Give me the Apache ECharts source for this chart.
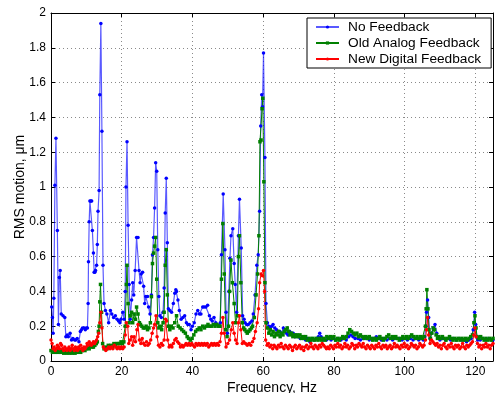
<!DOCTYPE html>
<html>
<head>
<meta charset="utf-8">
<script src="https://cdn.jsdelivr.net/npm/echarts@6/dist/echarts.min.js"></script>
<style>
  html, body { margin: 0; padding: 0; background: #fff; }
  #chart { width: 496px; height: 393px; }
</style>
</head>
<body>
<div id="chart"></div>
<script>
// [frequency Hz, RMS motion um]
var noFeedback = [
  [0.2,0.31],[0.4,0.25],[0.6,0.16],[0.8,0.36],[1.1,1.01],[1.4,1.28],[1.8,0.75],[2.1,0.21],[2.35,0.48],[2.6,0.52],
  [2.9,0.27],[3.4,0.26],[3.9,0.25],[4.2,0.14],[4.6,0.15],[4.9,0.14],[5.4,0.16],[5.8,0.12],[6.2,0.13],[6.7,0.12],
  [7.0,0.12],[7.4,0.13],[7.9,0.11],[8.3,0.17],[8.6,0.18],[8.9,0.19],[9.4,0.19],[9.7,0.18],[10.0,0.19],[10.3,0.19],
  [10.5,0.33],[10.6,0.57],[10.8,0.80],[11.0,0.92],[11.3,0.92],[11.5,0.92],[11.7,0.75],[12.0,0.62],[12.2,0.51],[12.4,0.51],
  [12.6,0.52],[12.9,0.55],[13.1,0.67],[13.3,0.86],[13.6,0.98],[13.8,1.53],[14.1,1.94],[14.4,1.32],[14.7,0.55],[15.0,0.33],
  [15.4,0.29],[15.8,0.27],[16.3,0.22],[16.8,0.29],[17.2,0.27],[17.7,0.25],[18.2,0.26],[18.7,0.24],[19.1,0.23],[19.5,0.22],
  [19.8,0.24],[20.3,0.28],[20.7,0.24],[21.0,0.40],[21.2,1.00],[21.5,1.26],[21.8,0.78],[22.1,0.44],[22.4,0.24],[22.8,0.35],
  [23.1,0.45],[23.4,0.38],[23.8,0.52],[24.2,0.71],[24.6,0.71],[24.9,0.52],[25.2,0.45],[25.5,0.50],[25.9,0.51],[26.2,0.43],
  [26.5,0.33],[26.8,0.37],[27.3,0.37],[27.6,0.31],[28.0,0.27],[28.4,0.38],[28.7,0.61],[29.0,0.71],[29.3,0.88],[29.6,1.14],
  [29.9,1.09],[30.2,0.64],[30.5,0.37],[30.8,0.26],[31.2,0.25],[31.7,0.28],[32.0,0.42],[32.3,0.85],[32.6,1.05],[32.9,0.68],
  [33.2,0.30],[33.6,0.29],[34.1,0.28],[34.6,0.33],[35.0,0.39],[35.3,0.41],[35.5,0.40],[35.9,0.35],[36.3,0.29],[36.8,0.24],
  [37.3,0.25],[37.8,0.26],[38.3,0.22],[38.7,0.21],[39.1,0.21],[39.6,0.18],[40.0,0.20],[40.5,0.22],[41.0,0.27],[41.5,0.29],
  [42.0,0.27],[42.4,0.27],[42.9,0.31],[43.3,0.31],[43.8,0.31],[44.3,0.32],[44.8,0.26],[45.2,0.24],[45.6,0.23],[46.1,0.25],
  [46.6,0.22],[47.0,0.21],[47.5,0.20],[47.9,0.22],[48.2,0.61],[48.7,0.96],[49.2,0.64],[49.5,0.28],[49.9,0.16],[50.3,0.40],
  [50.6,0.59],[50.9,0.72],[51.4,0.76],[51.8,0.56],[52.1,0.44],[52.5,0.28],[53.0,0.72],[53.3,0.93],[53.8,0.65],[54.2,0.26],
  [54.6,0.24],[54.9,0.22],[55.3,0.21],[55.8,0.21],[56.3,0.22],[56.8,0.23],[57.2,0.27],[57.7,0.38],[58.2,0.55],[58.6,0.61],
  [59.0,0.86],[59.3,1.35],[59.6,1.53],[59.8,1.46],[60.1,1.77],[60.5,1.17],[60.8,0.33],[61.2,0.22],[61.6,0.20],[61.9,0.19],
  [62.4,0.20],[62.8,0.21],[63.3,0.19],[63.8,0.18],[64.3,0.17],[64.7,0.17],[65.2,0.16],[65.7,0.19],[66.1,0.17],[66.6,0.16],
  [67.0,0.15],[67.5,0.17],[68.0,0.16],[68.5,0.16],[69.0,0.14],[69.4,0.15],[70.0,0.14],[70.5,0.13],[71.3,0.13],[72.0,0.12],
  [72.6,0.13],[73.2,0.11],[73.8,0.13],[74.4,0.12],[75.0,0.13],[75.6,0.14],[76.0,0.16],[76.4,0.14],[77.0,0.12],[77.9,0.12],
  [78.5,0.13],[79.2,0.12],[79.8,0.13],[80.5,0.12],[81.2,0.13],[82.0,0.12],[82.8,0.13],[83.5,0.12],[84.2,0.14],[84.8,0.15],
  [85.4,0.14],[86.0,0.13],[86.8,0.13],[87.5,0.12],[88.3,0.13],[89.2,0.13],[90.0,0.12],[90.8,0.13],[91.5,0.13],[92.0,0.14],
  [92.6,0.13],[93.4,0.12],[94.2,0.13],[95.0,0.12],[95.8,0.13],[96.6,0.12],[97.2,0.14],[97.7,0.13],[98.5,0.13],[99.3,0.12],
  [100.0,0.13],[100.8,0.12],[101.6,0.13],[102.4,0.12],[103.2,0.13],[104.0,0.12],[104.8,0.13],[105.3,0.12],[105.7,0.14],[106.0,0.20],
  [106.2,0.28],[106.5,0.35],[106.8,0.25],[107.2,0.13],[107.6,0.16],[108.1,0.19],[108.6,0.21],[109.1,0.16],[109.6,0.13],[110.0,0.12],
  [110.8,0.13],[111.6,0.12],[112.4,0.13],[113.0,0.12],[113.8,0.13],[114.6,0.12],[115.4,0.13],[116.2,0.12],[117.0,0.12],[117.5,0.11],
  [118.2,0.12],[118.8,0.13],[119.4,0.18],[119.8,0.28],[120.1,0.21],[120.4,0.14],[120.7,0.12],[121.4,0.12],[122.2,0.13],[123.0,0.12],
  [123.8,0.13],[124.6,0.12],[125.0,0.12]
];

var oldAnalog = [
  [0.0,0.06],[0.4,0.05],[0.8,0.06],[1.2,0.05],[1.6,0.06],[2.0,0.05],[2.4,0.06],[2.8,0.05],[3.2,0.06],[3.6,0.045],
  [4.0,0.055],[4.4,0.045],[4.8,0.06],[5.2,0.045],[5.6,0.055],[6.0,0.045],[6.4,0.06],[6.8,0.045],[7.2,0.055],[7.6,0.05],
  [8.0,0.06],[8.4,0.05],[8.8,0.06],[9.2,0.07],[9.6,0.06],[10.0,0.07],[10.4,0.08],[10.8,0.07],[11.2,0.09],[11.6,0.08],
  [12.0,0.08],[12.4,0.09],[12.8,0.10],[13.1,0.11],[13.4,0.17],[13.6,0.20],[13.8,0.34],[14.0,0.44],[14.3,0.28],[14.6,0.10],
  [15.0,0.07],[15.4,0.08],[15.8,0.07],[16.2,0.09],[16.6,0.08],[17.0,0.09],[17.4,0.08],[17.8,0.10],[18.2,0.09],[18.6,0.10],
  [19.0,0.10],[19.4,0.10],[19.8,0.11],[20.2,0.10],[20.6,0.11],[21.0,0.20],[21.3,0.44],[21.5,0.55],[21.8,0.33],[22.1,0.22],
  [22.4,0.26],[22.8,0.28],[23.1,0.22],[23.5,0.27],[23.9,0.24],[24.2,0.31],[24.6,0.27],[25.0,0.22],[25.3,0.21],[25.7,0.20],
  [26.1,0.19],[26.5,0.19],[26.9,0.20],[27.3,0.18],[27.7,0.19],[28.1,0.22],[28.4,0.37],[28.7,0.56],[29.0,0.62],[29.3,0.66],
  [29.6,0.71],[29.9,0.47],[30.2,0.22],[30.5,0.19],[30.9,0.20],[31.3,0.18],[31.7,0.22],[32.0,0.28],[32.3,0.55],[32.6,0.64],
  [32.9,0.38],[33.2,0.20],[33.6,0.18],[34.0,0.20],[34.5,0.19],[35.0,0.22],[35.5,0.26],[36.0,0.20],[36.5,0.19],[37.0,0.18],
  [37.5,0.17],[38.0,0.16],[38.5,0.14],[38.9,0.13],[39.4,0.12],[39.9,0.13],[40.4,0.15],[40.9,0.17],[41.4,0.18],[41.9,0.19],
  [42.4,0.18],[42.9,0.20],[43.4,0.19],[43.9,0.20],[44.4,0.21],[44.9,0.20],[45.4,0.20],[45.9,0.21],[46.4,0.20],[46.9,0.21],
  [47.4,0.20],[47.8,0.20],[48.2,0.47],[48.6,0.79],[49.0,0.50],[49.4,0.18],[49.8,0.14],[50.2,0.20],[50.5,0.40],[50.9,0.58],
  [51.3,0.45],[51.8,0.33],[52.2,0.22],[52.7,0.26],[53.0,0.60],[53.3,0.72],[53.7,0.45],[54.1,0.22],[54.5,0.19],[54.8,0.18],
  [55.2,0.17],[55.5,0.16],[55.9,0.17],[56.3,0.18],[56.7,0.19],[57.0,0.20],[57.5,0.25],[58.0,0.38],[58.4,0.50],[58.8,0.72],
  [59.1,1.26],[59.4,1.27],[59.7,1.45],[59.9,1.51],[60.2,1.03],[60.5,0.45],[60.8,0.22],[61.2,0.19],[61.6,0.16],[62.0,0.18],
  [62.4,0.15],[62.8,0.17],[63.2,0.14],[63.6,0.16],[64.0,0.15],[64.4,0.17],[64.8,0.14],[65.2,0.16],[65.6,0.15],[66.0,0.17],
  [66.4,0.18],[66.8,0.19],[67.2,0.17],[67.6,0.15],[68.0,0.16],[68.4,0.14],[68.8,0.15],[69.2,0.14],[69.6,0.15],[70.0,0.14],
  [70.4,0.15],[70.8,0.13],[71.2,0.14],[71.6,0.13],[72.0,0.14],[72.5,0.12],[73.0,0.13],[73.5,0.12],[74.0,0.13],[74.5,0.12],
  [75.0,0.13],[75.5,0.12],[76.0,0.13],[76.5,0.12],[77.0,0.13],[77.5,0.12],[78.0,0.14],[78.5,0.13],[79.0,0.14],[79.5,0.13],
  [80.0,0.14],[80.5,0.12],[81.0,0.13],[81.5,0.12],[82.0,0.13],[82.5,0.14],[83.0,0.13],[83.5,0.14],[84.0,0.16],[84.5,0.18],
  [85.0,0.17],[85.5,0.16],[86.0,0.15],[86.5,0.16],[87.0,0.14],[87.5,0.15],[88.0,0.14],[88.5,0.13],[89.0,0.14],[89.5,0.13],
  [90.0,0.14],[90.5,0.13],[91.0,0.12],[91.5,0.13],[92.0,0.12],[92.5,0.13],[93.0,0.14],[93.5,0.13],[94.0,0.12],[94.5,0.13],
  [95.0,0.14],[95.5,0.15],[96.0,0.13],[96.5,0.14],[97.0,0.13],[97.5,0.14],[98.0,0.13],[98.5,0.12],[99.0,0.13],[99.5,0.14],
  [100.0,0.13],[100.5,0.14],[101.0,0.13],[101.5,0.14],[102.0,0.15],[102.5,0.14],[103.0,0.13],[103.5,0.14],[104.0,0.13],[104.5,0.14],
  [105.0,0.13],[105.5,0.14],[105.9,0.20],[106.1,0.30],[106.3,0.41],[106.6,0.30],[106.9,0.18],[107.3,0.13],[107.7,0.16],[108.1,0.19],
  [108.5,0.18],[108.9,0.15],[109.3,0.13],[109.7,0.14],[110.2,0.13],[110.7,0.14],[111.2,0.13],[111.7,0.12],[112.2,0.13],[112.7,0.14],
  [113.2,0.13],[113.7,0.12],[114.2,0.13],[114.7,0.12],[115.2,0.13],[115.7,0.12],[116.2,0.13],[116.7,0.12],[117.2,0.13],[117.7,0.12],
  [118.2,0.13],[118.7,0.14],[119.2,0.15],[119.6,0.22],[119.9,0.26],[120.2,0.19],[120.5,0.14],[121.0,0.13],[121.5,0.14],[122.0,0.13],
  [122.5,0.12],[123.0,0.13],[123.5,0.12],[124.0,0.13],[124.5,0.12],[125.0,0.13]
];

var newDigital = [
  [0.0,0.12],[0.3,0.10],[0.6,0.07],[0.9,0.08],[1.2,0.06],[1.5,0.07],[1.8,0.09],[2.1,0.08],[2.4,0.07],[2.7,0.10],
  [3.0,0.09],[3.3,0.07],[3.6,0.06],[3.9,0.08],[4.2,0.07],[4.5,0.06],[4.8,0.07],[5.1,0.08],[5.4,0.06],[5.7,0.07],
  [6.0,0.09],[6.3,0.07],[6.6,0.06],[6.9,0.08],[7.2,0.07],[7.5,0.06],[7.8,0.08],[8.1,0.07],[8.4,0.09],[8.7,0.07],
  [9.0,0.06],[9.3,0.08],[9.6,0.07],[9.9,0.08],[10.2,0.10],[10.5,0.09],[10.8,0.11],[11.1,0.10],[11.4,0.09],[11.7,0.10],
  [12.0,0.11],[12.3,0.10],[12.6,0.11],[12.9,0.12],[13.2,0.14],[13.5,0.16],[13.8,0.22],[14.1,0.28],[14.4,0.19],[14.8,0.08],
  [15.1,0.07],[15.5,0.06],[15.9,0.07],[16.3,0.08],[16.7,0.07],[17.1,0.08],[17.5,0.07],[17.9,0.09],[18.3,0.08],[18.7,0.07],
  [19.1,0.08],[19.5,0.07],[19.9,0.08],[20.3,0.07],[20.7,0.08],[21.0,0.15],[21.3,0.22],[21.7,0.20],[22.0,0.10],[22.4,0.12],
  [22.8,0.14],[23.1,0.09],[23.5,0.14],[23.9,0.11],[24.3,0.18],[24.6,0.21],[25.0,0.12],[25.4,0.10],[25.8,0.13],[26.2,0.10],
  [26.6,0.09],[27.0,0.11],[27.4,0.09],[27.8,0.10],[28.2,0.12],[28.6,0.16],[29.0,0.19],[29.3,0.21],[29.7,0.26],[30.0,0.14],
  [30.4,0.09],[30.8,0.08],[31.2,0.10],[31.6,0.09],[32.0,0.12],[32.4,0.24],[32.7,0.23],[33.0,0.12],[33.4,0.08],[33.8,0.09],
  [34.2,0.08],[34.6,0.10],[35.0,0.12],[35.4,0.13],[35.8,0.11],[36.2,0.10],[36.6,0.08],[37.0,0.09],[37.4,0.08],[37.8,0.09],
  [38.2,0.10],[38.6,0.09],[39.0,0.10],[39.4,0.09],[39.8,0.10],[40.2,0.09],[40.6,0.08],[41.0,0.10],[41.4,0.09],[41.8,0.10],
  [42.2,0.09],[42.6,0.10],[43.0,0.09],[43.4,0.10],[43.8,0.09],[44.2,0.10],[44.6,0.08],[45.0,0.09],[45.4,0.10],[45.8,0.09],
  [46.2,0.10],[46.6,0.09],[47.0,0.10],[47.4,0.09],[47.8,0.11],[48.2,0.16],[48.6,0.25],[49.0,0.16],[49.5,0.08],[50.0,0.10],
  [50.5,0.12],[51.0,0.18],[51.4,0.22],[51.8,0.16],[52.2,0.12],[52.6,0.10],[53.0,0.22],[53.3,0.26],[53.7,0.18],[54.1,0.10],
  [54.5,0.11],[55.0,0.10],[55.5,0.09],[56.0,0.10],[56.5,0.09],[57.0,0.11],[57.4,0.13],[57.8,0.17],[58.3,0.22],[58.7,0.30],
  [59.0,0.45],[59.4,0.50],[59.8,0.49],[60.1,0.52],[60.4,0.40],[60.7,0.12],[61.1,0.09],[61.5,0.10],[61.9,0.08],[62.3,0.09],
  [62.7,0.07],[63.1,0.09],[63.5,0.08],[63.9,0.07],[64.3,0.09],[64.7,0.08],[65.1,0.10],[65.5,0.08],[65.9,0.07],[66.3,0.09],
  [66.7,0.08],[67.1,0.07],[67.5,0.09],[67.9,0.08],[68.3,0.06],[68.7,0.08],[69.1,0.09],[69.5,0.07],[69.9,0.08],[70.3,0.09],
  [70.7,0.07],[71.1,0.08],[71.5,0.06],[71.9,0.08],[72.3,0.09],[72.7,0.07],[73.1,0.08],[73.5,0.10],[73.9,0.08],[74.3,0.07],
  [74.7,0.09],[75.1,0.08],[75.5,0.07],[75.9,0.09],[76.3,0.08],[76.7,0.10],[77.1,0.09],[77.5,0.08],[77.9,0.07],[78.3,0.08],
  [78.7,0.07],[79.1,0.09],[79.5,0.08],[79.9,0.07],[80.3,0.09],[80.7,0.08],[81.1,0.10],[81.5,0.08],[81.9,0.09],[82.3,0.07],
  [82.7,0.08],[83.1,0.10],[83.5,0.08],[83.9,0.09],[84.3,0.07],[84.7,0.08],[85.1,0.10],[85.5,0.09],[85.9,0.07],[86.3,0.09],
  [86.7,0.08],[87.1,0.10],[87.5,0.09],[87.9,0.08],[88.3,0.10],[88.7,0.08],[89.1,0.07],[89.5,0.09],[89.9,0.08],[90.3,0.07],
  [90.7,0.09],[91.1,0.08],[91.5,0.07],[91.9,0.09],[92.3,0.08],[92.7,0.10],[93.1,0.08],[93.5,0.07],[93.9,0.09],[94.3,0.08],
  [94.7,0.09],[95.1,0.07],[95.5,0.08],[95.9,0.09],[96.3,0.07],[96.7,0.08],[97.1,0.10],[97.5,0.08],[97.9,0.09],[98.3,0.08],
  [98.7,0.07],[99.1,0.09],[99.5,0.08],[99.9,0.10],[100.3,0.08],[100.7,0.09],[101.1,0.07],[101.5,0.08],[101.9,0.10],[102.3,0.09],
  [102.7,0.08],[103.1,0.09],[103.5,0.07],[103.9,0.08],[104.3,0.10],[104.7,0.09],[105.1,0.08],[105.5,0.09],[105.9,0.12],[106.2,0.18],
  [106.5,0.25],[106.8,0.15],[107.2,0.10],[107.6,0.12],[108.0,0.11],[108.4,0.10],[108.8,0.09],[109.2,0.10],[109.6,0.08],[110.0,0.09],
  [110.4,0.07],[110.8,0.09],[111.2,0.10],[111.6,0.08],[112.0,0.07],[112.4,0.09],[112.8,0.08],[113.2,0.10],[113.6,0.08],[114.0,0.07],
  [114.4,0.09],[114.8,0.08],[115.2,0.09],[115.6,0.07],[116.0,0.08],[116.4,0.10],[116.8,0.08],[117.2,0.07],[117.6,0.09],[118.0,0.08],
  [118.4,0.09],[118.8,0.10],[119.2,0.11],[119.6,0.15],[119.9,0.19],[120.2,0.14],[120.6,0.10],[121.0,0.08],[121.4,0.09],[121.8,0.07],
  [122.2,0.09],[122.6,0.08],[123.0,0.10],[123.4,0.08],[123.8,0.09],[124.2,0.07],[124.6,0.09],[125.0,0.10]
];

var seriesNames = ['No Feedback', 'Old Analog Feedback', 'New Digital Feedback'];

var font = 'Liberation Sans, Arial, Helvetica, sans-serif';

var chart = echarts.init(document.getElementById('chart'));

var gridLine = {
    show: true,
    lineStyle: {
        color: '#8a8a8a',
        type: [1, 3],
        width: 1
    }
};
var boxLine = {
    show: true,
    onZero: false,
    lineStyle: { color: '#000', width: 1 }
};
var inTick = {
    show: true,
    inside: true,
    length: 4,
    lineStyle: { color: '#000' }
};

var option = {
    animation: false,
    backgroundColor: '#fff',
    textStyle: { fontFamily: font },
    grid: {
        left: 51,
        right: 3,
        top: 13,
        bottom: 32,
        containLabel: false,
        outerBoundsMode: 'none'
    },
    legend: {
        orient: 'vertical',
        left: 307,
        top: 18,
        padding: [2, 10, 2, 8],
        itemGap: 2,
        itemWidth: 23,
        itemHeight: 4,
        backgroundColor: '#fff',
        borderColor: '#000',
        borderWidth: 1,
        borderRadius: 0,
        textStyle: {
            fontFamily: font,
            fontSize: 13.7,
            color: '#000',
            padding: [0, 0, 0, 4]
        },
        data: seriesNames
    },
    xAxis: [
        {
            type: 'value',
            position: 'bottom',
            min: 0,
            max: 125,
            interval: 20,
            name: 'Frequency, Hz',
            nameLocation: 'middle',
            nameGap: 20,
            nameMoveOverlap: false,
            nameTextStyle: { fontFamily: font, fontSize: 14, color: '#000' },
            axisLine: boxLine,
            axisTick: inTick,
            axisLabel: {
                margin: 5,
                fontSize: 12,
                color: '#000',
                fontFamily: font,
                showMaxLabel: false
            },
            splitLine: gridLine
        },
        {
            type: 'value',
            position: 'top',
            min: 0,
            max: 125,
            interval: 20,
            axisLine: boxLine,
            axisTick: inTick,
            axisLabel: { show: false },
            splitLine: { show: false }
        }
    ],
    yAxis: [
        {
            type: 'value',
            position: 'left',
            min: 0,
            max: 2,
            interval: 0.2,
            name: 'RMS motion, \u03bcm',
            nameLocation: 'middle',
            nameGap: 24,
            nameMoveOverlap: false,
            nameTextStyle: { fontFamily: font, fontSize: 14, color: '#000' },
            axisLine: boxLine,
            axisTick: inTick,
            axisLabel: {
                margin: 5,
                fontSize: 12,
                color: '#000',
                fontFamily: font
            },
            splitLine: gridLine
        },
        {
            type: 'value',
            position: 'right',
            min: 0,
            max: 2,
            interval: 0.2,
            axisLine: boxLine,
            axisTick: inTick,
            axisLabel: { show: false },
            splitLine: { show: false }
        }
    ],
    series: [
        {
            name: seriesNames[0],
            type: 'line',
            data: noFeedback,
            symbol: 'circle',
            symbolSize: 3.5,
            showAllSymbol: true,
            itemStyle: { color: '#0000ff' },
            lineStyle: { color: '#0000ff', width: 1.2, opacity: 0.65 }
        },
        {
            name: seriesNames[1],
            type: 'line',
            data: oldAnalog,
            symbol: 'rect',
            symbolSize: 3.5,
            showAllSymbol: true,
            itemStyle: { color: '#008000' },
            lineStyle: { color: '#008000', width: 1 }
        },
        {
            name: seriesNames[2],
            type: 'line',
            data: newDigital,
            symbol: 'circle',
            symbolSize: 3.5,
            showAllSymbol: true,
            itemStyle: { color: '#ff0000' },
            lineStyle: { color: '#ff0000', width: 1 }
        }
    ]
};
chart.setOption(option);
</script>
</body>
</html>
